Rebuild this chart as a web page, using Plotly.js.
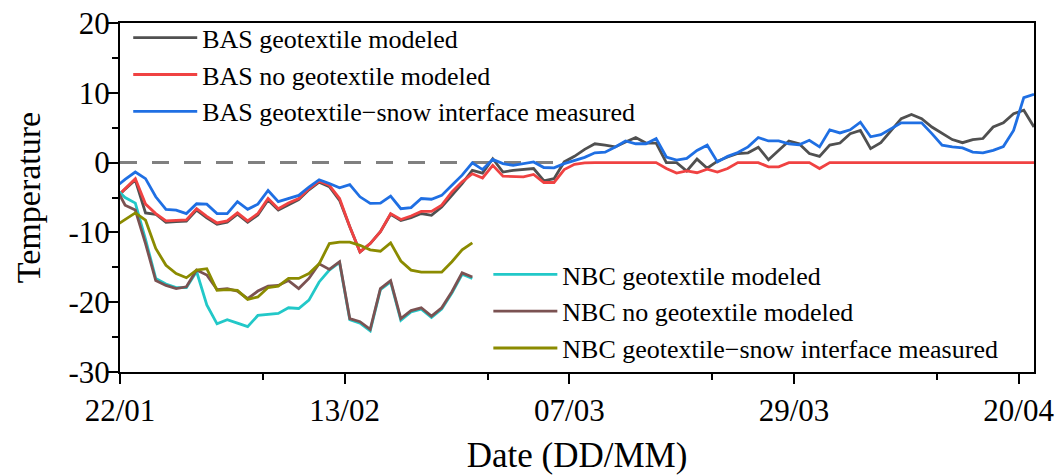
<!DOCTYPE html>
<html>
<head>
<meta charset="utf-8">
<script src="https://cdn.plot.ly/plotly-3.0.1.min.js"></script>
<style>
  body { margin: 0; background: #fff; }
  #chart { width: 1057px; height: 475px; }
</style>
</head>
<body>
<div id="chart"></div>
<script>
// one value per day, plotted at noon; first point (21/01) sits left of the axis and is clipped
const basStart = "2021-01-21 12:00";
const nbcStart = "2021-01-21 12:00";

const basGeoModeled = [
  -5.3, -3.8, -2.5, -7.2, -7.4, -8.55, -8.45, -8.4, -6.8, -7.9,
  -8.85, -8.55, -7.4, -8.55, -7.5, -5.35, -6.8, -6.0, -5.3, -3.9,
  -2.8, -3.45, -5.4, -9.2, -12.8, -11.6, -9.9, -7.4, -8.3, -7.9,
  -7.3, -7.55, -6.35, -4.7, -3.0, -1.1, -1.5, 0.55, -1.35, -1.1,
  -1.0, -0.85, -2.6, -2.3, 0.1, 0.9, 1.9, 2.7, 2.5, 2.25,
  2.95, 3.6, 2.8, 2.8, 0, 0, -1.2, 0.5, -0.8, 0.2,
  0.8, 1.3, 1.4, 2.2, 0.4, 1.7, 3.1, 2.7, 1.3, 0.9,
  2.5, 2.8, 4.15, 4.6, 2.0, 2.85, 4.6, 6.3, 6.9, 6.3,
  5.1, 4.15, 3.3, 2.85, 3.3, 3.45, 5.1, 5.7, 7.0, 7.5,
  5.1
];
const basNoGeoModeled = [
  -5.2, -3.7, -2.3, -5.95, -7.3, -8.35, -8.25, -8.2, -6.6, -7.7,
  -8.65, -8.35, -7.2, -8.35, -7.3, -5.15, -6.6, -5.8, -5.15, -3.75,
  -2.65, -3.25, -5.15, -9.2, -12.8, -11.6, -9.9, -7.3, -8.15, -7.65,
  -7.0, -7.0, -6.1, -4.2, -2.75, -1.6, -2.2, -0.4, -1.95, -2.05,
  -2.05, -1.7, -2.85, -2.85, -1.0, -0.25, -0.05, 0, 0, 0,
  0, 0, 0, 0, -0.85, -1.5, -1.2, -1.45, -0.95, -1.35,
  -0.85, 0, 0, 0, -0.6, -0.6, 0, 0, 0, -0.85,
  0, 0, 0, 0, 0, 0, 0, 0, 0, 0,
  0, 0, 0, 0, 0, 0, 0, 0, 0, 0,
  0
];
const basMeasured = [
  -3.6, -2.4, -1.35, -2.3, -4.9, -6.7, -6.8, -7.3, -5.9, -5.95,
  -7.3, -7.3, -5.6, -6.7, -5.95, -4.0, -5.6, -5.15, -4.7, -3.5,
  -2.45, -3.0, -3.6, -3.15, -4.9, -5.85, -5.8, -4.8, -6.6, -6.45,
  -5.15, -5.25, -4.7, -3.25, -1.8, -0.05, -1.0, 0.45, -0.15, -0.4,
  -0.15, 0.1, -0.7, -0.75, -0.15, 0.3, 0.75, 1.4, 1.5, 2.25,
  3.1, 2.7, 2.7, 3.45, 0.8, 0.35, 0.6, 1.75, 2.5, 0.1,
  0.9, 1.45, 2.25, 3.6, 3.1, 3.1, 2.7, 2.55, 3.2, 2.25,
  4.7, 4.25, 4.7, 5.8, 3.7, 4.0, 4.85, 5.7, 5.7, 5.7,
  4.15, 2.5, 2.25, 2.1, 1.5, 1.4, 1.75, 2.3, 4.6, 9.3,
  9.8
];

const nbcGeoModeled = [
  -3.6, -5.0, -5.8, -11.0, -16.6, -17.4, -17.9, -17.9, -15.6, -20.4,
  -23.1, -22.5, -23.0, -23.5, -21.9, -21.8, -21.6, -20.8, -20.9, -19.7,
  -17.1, -15.4, -14.3, -22.5, -23.0, -24.1, -18.2, -17.1, -22.6, -21.4,
  -21.0, -22.2, -21.0, -18.7, -16.0, -16.6
];
const nbcNoGeoModeled = [
  -3.3, -6.1, -6.8, -11.6, -16.9, -17.6, -18.05, -17.8, -15.4, -16.1,
  -18.2, -18.05, -18.4, -19.5, -18.4, -17.7, -17.6, -16.9, -18.05, -16.6,
  -14.5, -15.3, -14.2, -22.35, -22.8, -23.9, -18.05, -16.9, -22.35, -21.2,
  -20.8, -22.0, -20.8, -18.5, -15.8, -16.4
];
const nbcMeasured = [
  -9.1, -8.2, -7.2, -8.25, -12.3, -14.7, -15.9, -16.5, -15.4, -15.2,
  -18.3, -18.2, -18.3, -19.6, -19.25, -17.9, -17.7, -16.6, -16.6, -15.9,
  -14.5, -11.6, -11.4, -11.4, -11.85, -12.5, -12.7, -11.5, -14.1, -15.4,
  -15.7, -15.7, -15.7, -14.2, -12.5, -11.5
];

const tickDates = ["2021-01-22", "2021-02-13", "2021-03-07", "2021-03-29", "2021-04-20"];
const minorTickDates = ["2021-02-05", "2021-02-27", "2021-03-21", "2021-04-12"];
const yTickVals = [-30, -20, -10, 0, 10, 20];
const yTickText = ["-30", "-20", "-10", "0", "10", "20"];

function dailyDates(start, count) {
  const out = [];
  const t0 = new Date(start.replace(" ", "T") + ":00Z").getTime();
  for (let i = 0; i < count; i++) {
    out.push(new Date(t0 + i * 86400000).toISOString().slice(0, 16).replace("T", " "));
  }
  return out;
}

const basDates = dailyDates(basStart, basMeasured.length);
const nbcDates = dailyDates(nbcStart, nbcMeasured.length);

const serif = "Liberation Serif, Times New Roman, serif";

function line(x, y, name, color, legend) {
  return {
    x: x, y: y, name: name, type: "scatter", mode: "lines",
    line: { color: color, width: 2.8 },
    legend: legend
  };
}

const traces = [
  line(basDates, basGeoModeled, "BAS geotextile modeled", "#505050", "legend"),
  line(basDates, basNoGeoModeled, "BAS no geotextile modeled", "#f04242", "legend"),
  line(basDates, basMeasured, "BAS geotextile\u2212snow interface measured", "#1f6fe3", "legend"),
  line(nbcDates, nbcGeoModeled, "NBC geotextile modeled", "#22c8c8", "legend2"),
  line(nbcDates, nbcNoGeoModeled, "NBC no geotextile modeled", "#7b5252", "legend2"),
  line(nbcDates, nbcMeasured, "NBC geotextile\u2212snow interface measured", "#8b8b00", "legend2")
];

const axisCommon = {
  showline: true, linewidth: 2, linecolor: "#000", mirror: true,
  showgrid: false, zeroline: false,
  ticks: "outside", tickwidth: 2, tickcolor: "#000",
  tickfont: { family: serif, size: 31, color: "#000" }
};

const legendCommon = {
  bgcolor: "rgba(0,0,0,0)", borderwidth: 0,
  font: { family: serif, size: 26, color: "#000" },
  itemwidth: 64, xanchor: "left", tracegroupgap: 0
};

const layout = {
  width: 1057, height: 475,
  margin: { l: 120, r: 23, t: 23, b: 103 },
  paper_bgcolor: "#fff", plot_bgcolor: "#fff",
  font: { family: serif, color: "#000" },
  showlegend: true,
  xaxis: Object.assign({}, axisCommon, {
    type: "date",
    range: ["2021-01-22", "2021-04-21 12:00"],
    tickmode: "array", tickvals: tickDates, tickformat: "%d/%m",
    ticklen: 10,
    minor: { tickmode: "array", tickvals: minorTickDates, ticks: "outside", ticklen: 6, tickwidth: 2, tickcolor: "#000", showgrid: false },
    title: { text: "Date (DD/MM)", font: { family: serif, size: 35, color: "#000" }, standoff: 22 }
  }),
  yaxis: Object.assign({}, axisCommon, {
    range: [-30, 20], tickmode: "array", tickvals: yTickVals, ticktext: yTickText,
    ticklen: 12, ticklabelstandoff: -10,
    minor: { tickmode: "linear", tick0: -30, dtick: 5, ticks: "outside", ticklen: 6, tickwidth: 2, tickcolor: "#000", showgrid: false },
    title: { text: "Temperature", font: { family: serif, size: 34, color: "#000" }, standoff: 18 }
  }),
  legend: Object.assign({}, legendCommon, { x: 0.009, y: 1.025, yanchor: "top" }),
  legend2: Object.assign({}, legendCommon, { x: 0.403, y: 0, yanchor: "bottom" }),
  shapes: [{
    type: "line", xref: "x", yref: "y", layer: "below",
    x0: "2021-01-22", x1: "2021-03-06", y0: 0, y1: 0,
    line: { color: "#808080", width: 3, dash: "17px,15px" }
  }]
};

Plotly.newPlot("chart", traces, layout, { displayModeBar: false, staticPlot: true });
</script>
</body>
</html>
